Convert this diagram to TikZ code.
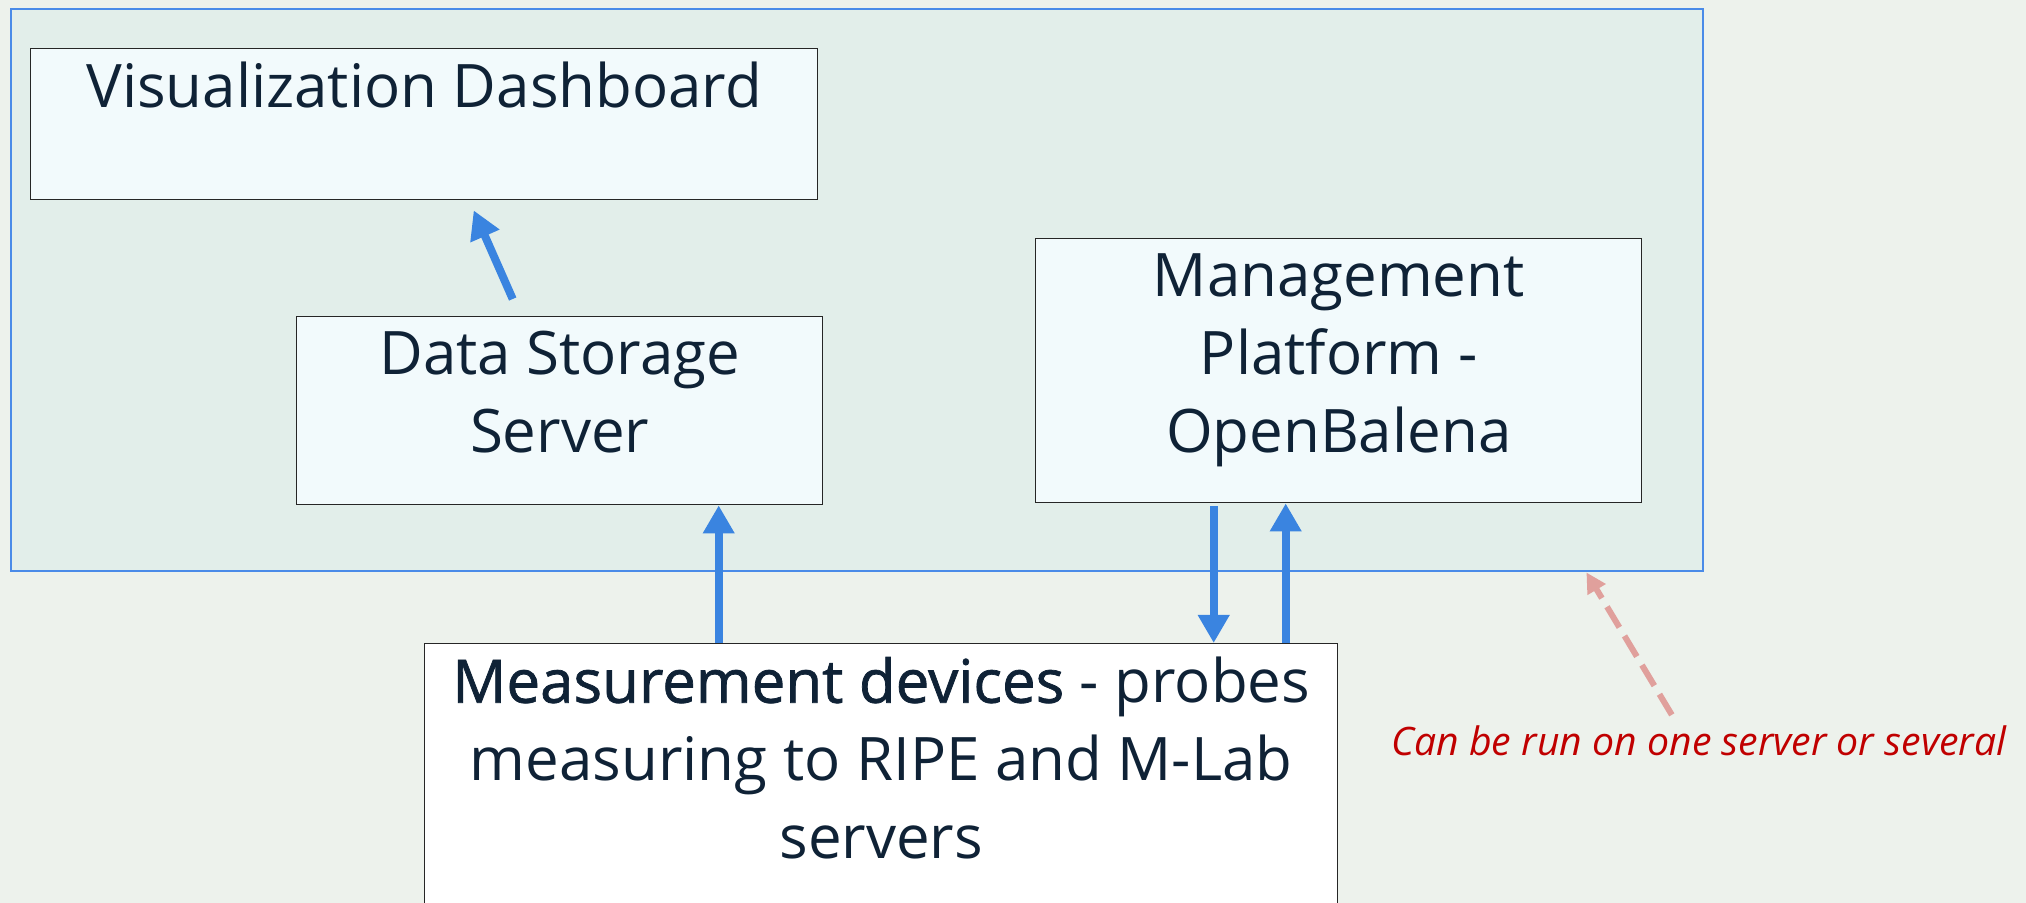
\documentclass[tikz,border=0pt]{standalone}
\usepackage{fontspec}
\setmainfont{Open Sans}
\newfontfamily\semibold{Open Sans}[FakeBold=1.2]
\usetikzlibrary{arrows.meta}

\definecolor{pagebg}{HTML}{EDF2EC}
\definecolor{groupbg}{HTML}{E2EEEA}
\definecolor{groupline}{HTML}{4A8BE8}
\definecolor{boxbg}{HTML}{F2FAFC}
\definecolor{inktext}{HTML}{0F2236}
\definecolor{flowblue}{HTML}{3A84E0}
\definecolor{noteline}{HTML}{E0A09C}
\definecolor{notetext}{HTML}{C00000}

% room above the first baseline / below the last one
\newcommand{\topgap}[1]{\rule{0pt}{#1}}
\newcommand{\botgap}[1]{\rule[-#1]{0pt}{#1}}

\tikzset{
  group/.style={draw=groupline, line width=1.2pt, fill=groupbg, inner sep=0pt, anchor=north west},
  block/.style={draw=black!85, line width=0.7pt, fill=boxbg, text=inktext, align=center,
    inner sep=0pt, anchor=north west, font=\fontsize{30}{39}\selectfont},
  flow/.style={draw=flowblue, line width=4pt, -{Triangle[length=14pt,width=15pt]}},
  note/.style={draw=noteline, line width=3pt, dash pattern=on 12pt off 5pt,
    -{Triangle[length=10pt,width=10pt]}},
}

\begin{document}
\begin{tikzpicture}[x=0.5pt, y=-0.5pt]
    \useasboundingbox[fill=pagebg] (0,0) rectangle (2026,903);
    \clip (0,0) rectangle (2026,903);

    % Server side
    \node[group, minimum width=846pt, minimum height=281pt] (hosts) at (10,8) {};
    \node[block, minimum width=393.5pt] (dash) at (30,48)
        {\topgap{29.5pt}Visualization Dashboard\botgap{46pt}};
    \node[block, minimum width=263pt] (store) at (296,316)
        {\topgap{29pt}Data Storage\\Server\botgap{26pt}};
    \node[block, minimum width=303pt] (mgmt) at (1035,238)
        {\topgap{29pt}Management\\Platform -\\OpenBalena\botgap{25pt}};

    % Probes
    \node[block, fill=white, minimum width=456.5pt] (probe) at (424,643)
        {\topgap{29.5pt}{\semibold Measurement devices} - probes\\measuring to RIPE and M-Lab\\servers\botgap{32pt}};

    % Data flows
    \coordinate (upA) at ([xshift=79.5pt]store.south);
    \coordinate (downA) at ([xshift=-62.5pt]mgmt.south);
    \coordinate (upB) at ([xshift=-26.5pt]mgmt.south);
    \draw[flow] ([xshift=-23.5pt, yshift=8.5pt]store.north) -- ([xshift=24.75pt, yshift=-5pt]dash.south);
    \draw[flow] (upA |- probe.north) -- (upA);
    \draw[flow] ([yshift=-1.5pt]downA) -- (downA |- probe.north);
    \draw[flow] (upB |- probe.north) -- (upB);

    % Note
    \node[anchor=base west, inner sep=0pt, text=notetext, font=\itshape\fontsize{19.6}{23}\selectfont] (remark) at (1391,755)
        {Can be run on one server or several};
    \draw[note] ([xshift=-13.5pt, yshift=5pt]remark.north) -- ([xshift=-59pt]hosts.south east);
\end{tikzpicture}
\end{document}
